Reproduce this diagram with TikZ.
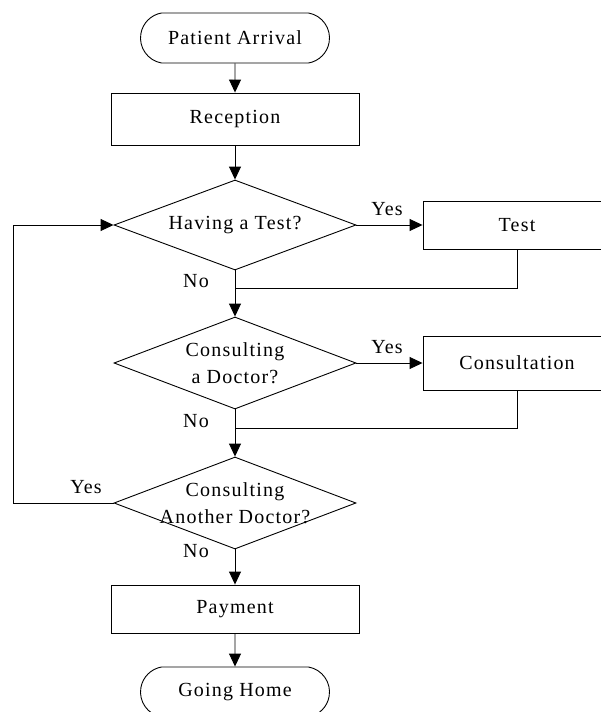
\documentclass[tikz,border=0pt]{standalone}
\usepackage{fontspec}
\setmainfont[LetterSpace=6]{Liberation Serif}
\usetikzlibrary{shapes.geometric,shapes.misc,arrows.meta}

\begin{document}
\begin{tikzpicture}[x=1pt,y=-1pt,
    every node/.style={font=\fontsize{20}{27}\selectfont},
    terminal/.style={rounded rectangle,rounded rectangle arc length=160,draw,
		line width=0.9pt,minimum width=189pt,minimum height=50pt,inner sep=0pt},
    process/.style={rectangle,draw,line width=0.9pt,minimum width=248pt,
		inner sep=0pt},
    decision/.style={diamond,draw,line width=0.9pt,minimum width=242pt,
		inner sep=0pt},
    answer/.style={anchor=base,inner sep=0pt},
    flow/.style={line width=0.9pt,-{Triangle[length=13pt,width=12pt]}},
    link/.style={line width=0.9pt}
]
    \useasboundingbox (0,0) rectangle (600,712);

    \node (arrival) [terminal] at (235,38) {Patient Arrival};
    \node (reception) [process,minimum height=52pt] at (235,119) {Reception};
    \node (test_q) [decision,minimum height=90pt,
	    label={[align=center]center:{Having a Test?}}] at (235,225) {};
    \node (test) [process,minimum width=188pt,minimum height=48pt] at (517,225) {Test};
    \node (consult_q) [decision,minimum height=92pt,
	    label={[align=center]center:{Consulting\\a Doctor?}}] at (235,363) {};
    \node (consult) [process,minimum width=188pt,minimum height=54pt] at (517,363) {Consultation};
    \node (another_q) [decision,minimum height=92pt,
	    label={[align=center]center:{Consulting\\Another Doctor?}}] at (235,503) {};
    \node (payment) [process,minimum height=48pt] at (235,609) {Payment};
    \node (home) [terminal] at (235,692) {Going Home};

    % answers
    \node (yes1) [answer] at (387,215) {Yes};
    \node (no1) [answer] at (196,287) {No};
    \node (yes2) [answer] at (387,353) {Yes};
    \node (no2) [answer] at (196,427) {No};
    \node (yes3) [answer] at (86,493) {Yes};
    \node (no3) [answer] at (196,557) {No};

    \coordinate (merge1) at (235,288);
    \coordinate (merge2) at (235,428);
    \coordinate (back) at (13,503);

    \draw[flow] (arrival) -- (reception);
    \draw[flow] (reception) -- (test_q);
    \draw[flow] (test_q.east) -- (test.west);
    \draw[link] (test.south) |- (merge1);
    \draw[flow] (test_q.south) -- (consult_q.north);
    \draw[flow] (consult_q.east) -- (consult.west);
    \draw[link] (consult.south) |- (merge2);
    \draw[flow] (consult_q.south) -- (another_q.north);
    \draw[flow] (another_q.west) -- (back) |- (test_q.west);
    \draw[flow] (another_q.south) -- (payment);
    \draw[flow] (payment) -- (home);
\end{tikzpicture}
\end{document}
